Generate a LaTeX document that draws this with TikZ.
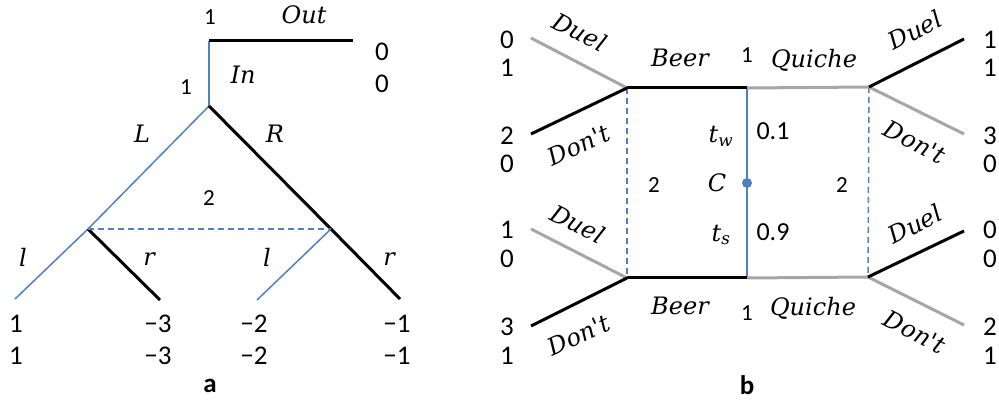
\documentclass[tikz,border=0pt]{standalone}
\usepackage{fontspec}
\setmainfont{Carlito}
\newfontfamily\labfont{DejaVu Serif}
\definecolor{tblue}{HTML}{4F81BD}
\definecolor{tgray}{HTML}{A6A6A6}
\newcommand\mylab[1]{{\labfont\itshape #1}}
\tikzset{
  blk/.style={line width=3pt,black},
  gry/.style={line width=3pt,tgray},
  blu/.style={line width=1.5pt,tblue},
  dsh/.style={line width=1.5pt,tblue,dash pattern=on 6pt off 4pt},
  pay/.style={inner sep=0pt,font=\fontsize{27}{27}\selectfont},
  prob/.style={inner sep=0pt,font=\fontsize{26}{26}\selectfont},
  pl/.style={inner sep=0pt,font=\fontsize{23}{23}\selectfont},
  act/.style={inner sep=0pt,font=\fontsize{24}{24}\selectfont},
  captxt/.style={inner sep=0pt,font=\fontsize{27}{27}\selectfont\bfseries},
}
\begin{document}
\begin{tikzpicture}[x=1pt,y=-1pt]
\useasboundingbox (0,0) rectangle (999,403);
% ---------- panel a ----------
\coordinate (a1) at (209,41);
\coordinate (aout) at (353,41);
\coordinate (a2) at (209,106);
\coordinate (aP) at (88,229);
\coordinate (aQ) at (331,229);
\coordinate (aLl) at (15,299);
\coordinate (aLr) at (160,300);
\coordinate (aRl) at (257,300);
\coordinate (aRr) at (400,299);
\draw[blu] (a1) -- (a2);
\draw[blu] (a2) -- (aP) -- (aLl);
\draw[blu] (aQ) -- (aRl);
\draw[blk] (aP) -- (aLr);
\draw[blk] (a2) -- (aQ) -- (aRr);
\draw[blk] (a1) -- (aout);
\draw[dsh] (aP) -- (aQ);
\node[pl] (na1) at (210,17) {1};
\node[act] (nout) at (304,15) {\mylab{Out}};
\node[pay] (po1) at (382,52) {0};
\node[pay] (po2) at (382,84) {0};
\node[act] (nin) at (243,75) {\mylab{In}};
\node[pl] (na2) at (186,87) {1};
\node[act] (nL) at (142,134) {\mylab{L}};
\node[act] (nR) at (275,134) {\mylab{R}};
\node[pl] (nP2) at (209,198) {2};
\node[act] (nl1) at (23,257) {\mylab{l}};
\node[act] (nr1) at (149,259) {\mylab{r}};
\node[act] (nl2) at (267,257) {\mylab{l}};
\node[act] (nr2) at (389,259) {\mylab{r}};
\node[pay] (p11) at (16,324) {1};
\node[pay] (p12) at (16,356) {1};
\node[pay] (p21) at (158,324) {\char"2212 3};
\node[pay] (p22) at (158,356) {\char"2212 3};
\node[pay] (p31) at (254,324) {\char"2212 2};
\node[pay] (p32) at (254,356) {\char"2212 2};
\node[pay] (p41) at (397,324) {\char"2212 1};
\node[pay] (p42) at (397,356) {\char"2212 1};
\node[captxt] (capa) at (210,386) {a};
% ---------- panel b ----------
\coordinate (bL1) at (627,88);
\coordinate (bC1) at (747,88);
\coordinate (bR1) at (869,87);
\coordinate (bL2) at (627,278);
\coordinate (bC2) at (747,278);
\coordinate (bR2) at (868,277);
\coordinate (e1) at (531,38);
\coordinate (e2) at (531,134);
\coordinate (e3) at (964,39);
\coordinate (e4) at (964,134);
\coordinate (e5) at (531,229);
\coordinate (e6) at (531,326);
\coordinate (e7) at (964,231);
\coordinate (e8) at (964,325);
\draw[dsh] (bL1) -- (bL2);
\draw[dsh] (bR1) -- (bR2);
\draw[blu] (bC1) -- (bC2);
\draw[gry] (bC1) -- (bR1);
\draw[gry] (bC2) -- (bR2);
\draw[gry] (bL1) -- (e1);
\draw[gry] (bR1) -- (e4);
\draw[gry] (bL2) -- (e5);
\draw[gry] (bR2) -- (e8);
\draw[blk] (bL1) -- (bC1);
\draw[blk] (bL2) -- (bC2);
\draw[blk] (bL1) -- (e2);
\draw[blk] (bR1) -- (e3);
\draw[blk] (bL2) -- (e6);
\draw[blk] (bR2) -- (e7);
\node[circle,fill=tblue,inner sep=0pt,minimum size=10pt] (chance) at (747,183) {};
% labels
\node[act] (bBeer1) at (680,58) {\mylab{Beer}};
\node[pl] (bone1) at (747,55) {1};
\node[act] (bQ1) at (814,60) {\mylab{Quiche}};
\node[act,rotate=-27] (bD1) at (580,32) {\mylab{Duel}};
\node[act,rotate=25] (bN1) at (579,145) {\mylab{Don't}};
\node[act,rotate=27] (bD2) at (915,30) {\mylab{Duel}};
\node[act,rotate=-27] (bN2) at (915,142) {\mylab{Don't}};
\node[act,rotate=-27] (bD3) at (578,224) {\mylab{Duel}};
\node[act,rotate=25] (bN3) at (579,335) {\mylab{Don't}};
\node[act,rotate=27] (bD4) at (915,224) {\mylab{Duel}};
\node[act,rotate=-27] (bN4) at (915,332) {\mylab{Don't}};
\node[act] (tw) at (721,136) {\mylab{t}\textsubscript{\mylab{w}}};
\node[prob] (pw) at (773,131) {0.1};
\node[act] (nC) at (717,183) {\mylab{C}};
\node[pl] (b2l) at (654,185) {2};
\node[pl] (b2r) at (842,185) {2};
\node[act] (ts) at (721,235) {\mylab{t}\textsubscript{\mylab{s}}};
\node[prob] (ps) at (773,232) {0.9};
\node[act] (bBeer2) at (680,306) {\mylab{Beer}};
\node[pl] (bone2) at (747,313) {1};
\node[act] (bQ2) at (813,308) {\mylab{Quiche}};
% payoffs
\node[pay] (q1a) at (507,40) {0};
\node[pay] (q1b) at (507,68) {1};
\node[pay] (q2a) at (507,136) {2};
\node[pay] (q2b) at (507,164) {0};
\node[pay] (q3a) at (990,40) {1};
\node[pay] (q3b) at (990,68) {1};
\node[pay] (q4a) at (990,136) {3};
\node[pay] (q4b) at (990,164) {0};
\node[pay] (q5a) at (507,230) {1};
\node[pay] (q5b) at (507,259) {0};
\node[pay] (q6a) at (507,327) {3};
\node[pay] (q6b) at (507,356) {1};
\node[pay] (q7a) at (990,230) {0};
\node[pay] (q7b) at (990,259) {0};
\node[pay] (q8a) at (990,327) {2};
\node[pay] (q8b) at (990,356) {1};
\node[captxt] (capb) at (747,385) {b};
\end{tikzpicture}
\end{document}
